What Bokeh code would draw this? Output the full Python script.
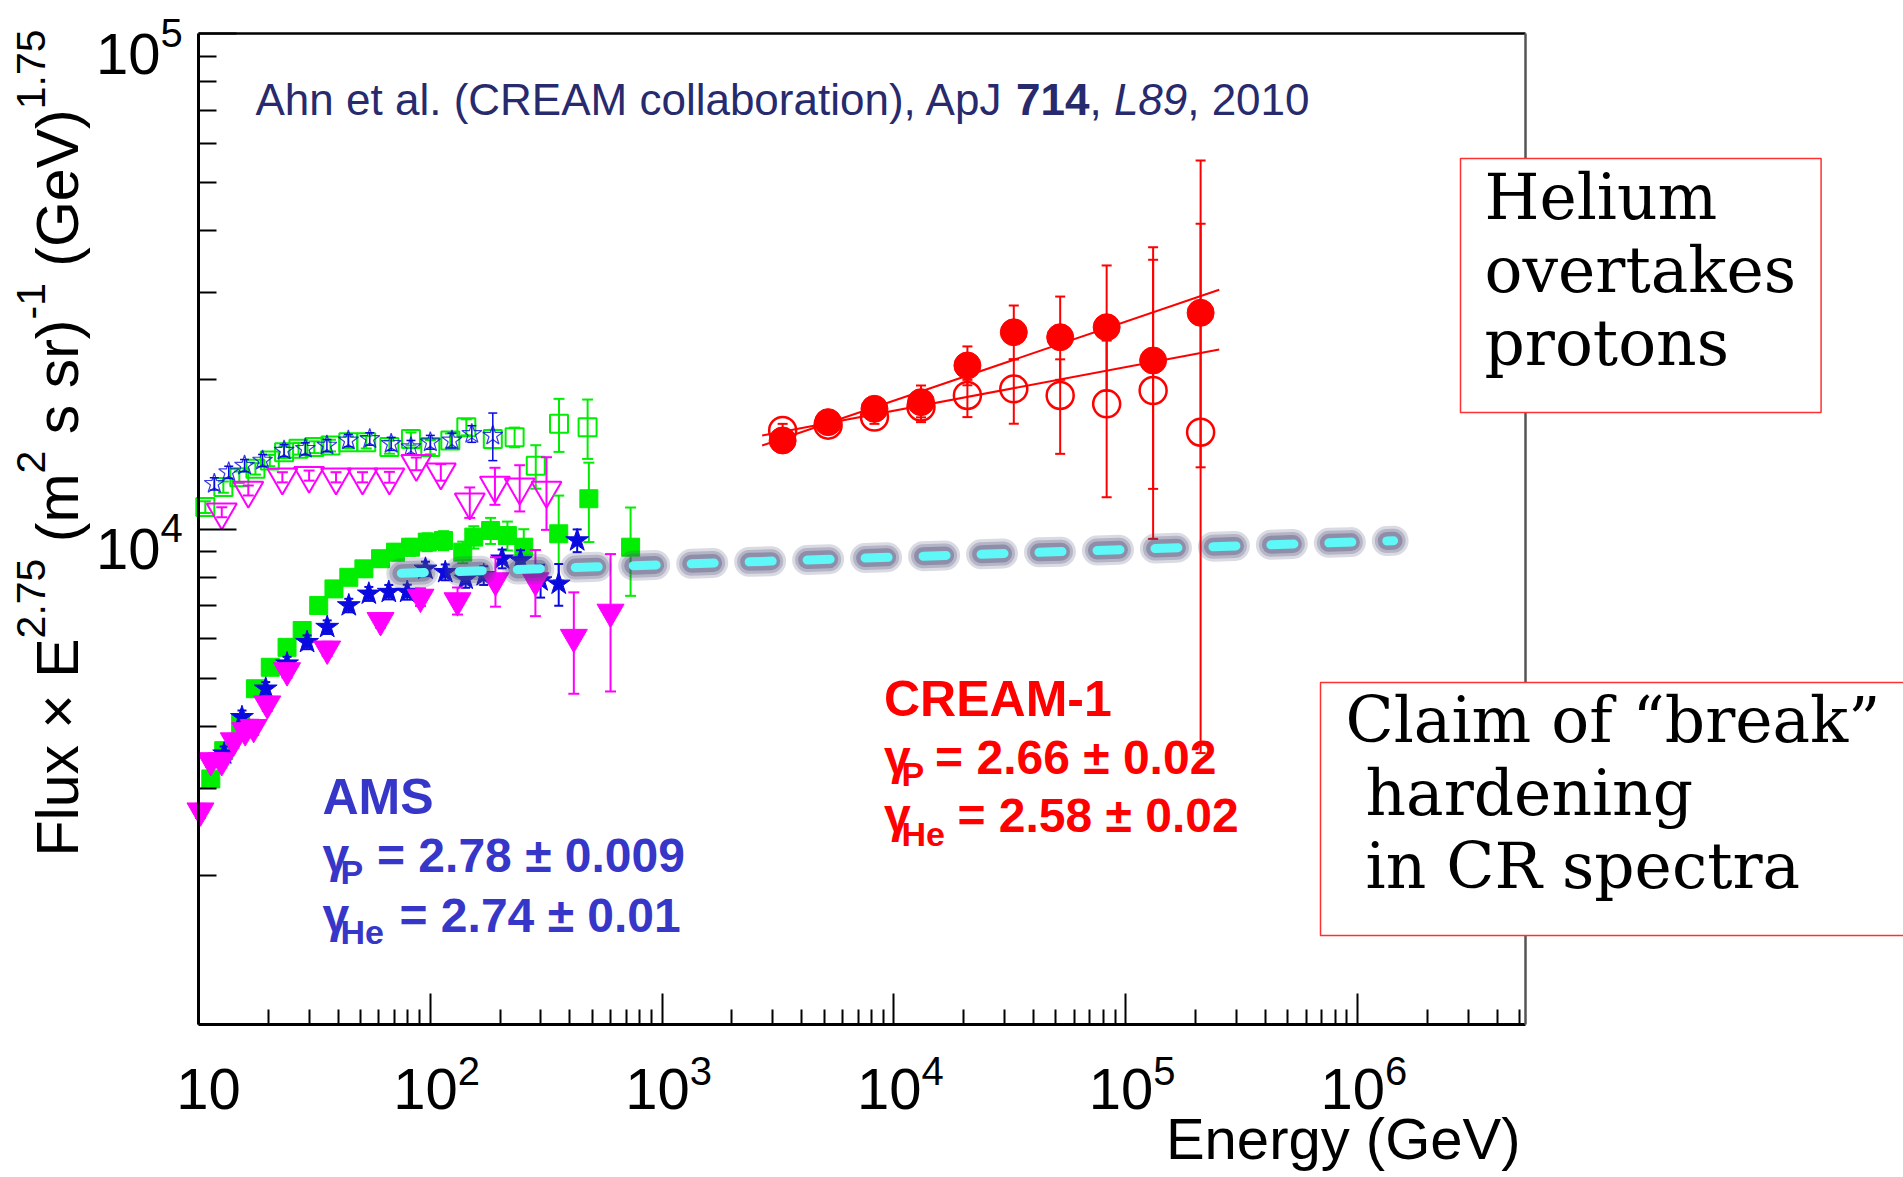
from math import log10, pi

from bokeh.plotting import figure
from bokeh.models import Range1d, FixedTicker, CustomJSTickFormatter, Label, LogAxis
from bokeh.embed import file_html
from bokeh.resources import INLINE

# ---------------------------------------------------------------------------
# Measurements: energy per particle [GeV] and flux x E^2.75
# ---------------------------------------------------------------------------

# blue stars - protons (open) and helium (filled)
star_p_e = [11.7, 13.5, 15.8, 18.9, 23.4, 28.9, 35.8, 44.3, 54.8, 67.8, 82.5, 100, 124, 151, 186]
star_p_f = [12340, 13020, 13430, 13750, 14400, 14520, 14740, 15090, 15200, 14860, 14630, 14970, 15090, 15560, 15440]
star_p_err = [350, 370, 380, 390, 400, 410, 420, 430, 440, 450, 460, 480, 520, 600, 1700]

star_he_e = [12.9, 15.4, 19.5, 24.1, 29.4, 35.9, 44.5, 54.3, 66.2, 79.5, 95.3, 116, 142, 170, 204, 245, 299, 358, 430]
star_he_f = [3520, 4170, 4760, 5350, 5910, 6340, 7010, 7400, 7460, 7460, 8310, 8180, 7930, 8060, 8710, 8640, 7870, 7750, 9480]
star_he_err = [120, 130, 150, 170, 190, 200, 220, 240, 250, 260, 280, 300, 320, 350, 380, 420, 600, 750, 500]

# green squares - protons (open) and helium (filled)
sq_p_e = [10.7, 12.8, 15.0, 17.6, 20.3, 23.4, 27.0, 31.6, 37.1, 44.3, 52.9, 66.6, 82.5, 100, 122, 143, 186, 231, 285, 359, 477]
sq_p_f = [11070, 12150, 12720, 13230, 13750, 14290, 14520, 14630, 14740, 14970, 14970, 14630, 15200, 14630, 15090, 16050, 15200, 15320, 13410, 16310, 16050]
sq_p_err = [300, 320, 340, 350, 360, 380, 390, 400, 400, 420, 430, 440, 460, 480, 500, 600, 650, 700, 1350, 2000, 2200]

sq_he_e = [11.3, 12.85, 15.2, 17.6, 20.4, 24.1, 28.0, 33.0, 38.4, 44.5, 51.7, 61.0, 70.8, 82.2, 97.0, 114, 138, 154, 182, 215, 253, 358, 483, 731]
sq_he_f = [3130, 3570, 4045, 4760, 5260, 5770, 6240, 7010, 7570, 7990, 8310, 8710, 8980, 9190, 9410, 9480, 8980, 9630, 9930, 9700, 9190, 9780, 11510, 9190]
sq_he_err = [110, 120, 140, 160, 180, 200, 220, 240, 260, 280, 300, 320, 340, 360, 390, 420, 450, 500, 600, 650, 800, 1900, 2100, 1860]

# magenta down-triangles - protons (open) and helium (filled)
tri_p_e = [12.6, 16.4, 23.0, 30.0, 39.2, 51.0, 66.6, 87.0, 111, 148, 190, 243, 317]
tri_p_f = [10810, 11960, 12720, 12820, 12720, 12720, 12720, 13540, 13020, 11330, 12240, 12150, 11960]
tri_p_err = [250, 280, 300, 300, 300, 300, 320, 400, 500, 800, 1050, 1300, 2000]

tri_he_e = [10.2, 11.3, 12.6, 14.2, 15.9, 17.3, 19.8, 24.1, 35.9, 61.0, 90.7, 131, 191, 284, 416, 599]
tri_he_f = [2700, 3410, 3410, 3740, 3920, 3980, 4440, 5180, 5730, 6540, 7290, 7170, 7870, 7870, 6050, 6800]
tri_he_err = [90, 100, 110, 120, 130, 140, 150, 170, 190, 220, 300, 450, 900, 1200, 1400, 2100]

# CREAM-1 - protons (open circles) and helium (filled circles)
cream_e = [3310, 5200, 8240, 13080, 20740, 32880, 52120, 82700, 131200, 210300]
cream_p_f = [15810, 16200, 16820, 17620, 18600, 19180, 18600, 17890, 19030, 15680]
cream_p_lo = [15300, 15700, 16300, 16430, 16820, 16310, 14180, 11590, 12050, 13320]
cream_p_hi = [16300, 16700, 17300, 18800, 20000, 22000, 22000, 24000, 34940, 41300]
cream_he_f = [15090, 16430, 17480, 18030, 21380, 24950, 24380, 25540, 21880, 27310]
cream_he_lo = [14600, 15900, 16900, 16800, 19500, 22000, 20000, 19000, 9550, 3530]
cream_he_hi = [15600, 16900, 18100, 19480, 23360, 28250, 29450, 34030, 37040, 55430]

# CREAM-1 power-law fits (end points)
fit_e = [2700, 253000]
fit_p_f = [15440, 23030]
fit_he_f = [14740, 30390]

# single power law extrapolated from low energies
pl_e = [75, 1.43e6]
pl_f = [8140, 9470]

# axis ticks
x_major = [10, 100, 1e3, 1e4, 1e5, 1e6]
y_major = [1e4, 1e5]

# ---------------------------------------------------------------------------
# Geometry: the axes box sits inside a canvas-wide plotting area so that the
# annotations around it (tick labels, titles, comment boxes) are not clipped.
W, H = 1903, 1177
BOX_L, BOX_R, BOX_T, BOX_B = 198, 1525, 33, 1024
X_LO, X_HI = 10.0, 5.3e6
Y_LO, Y_HI = 1e3, 1e5

DEC_X = (BOX_R - BOX_L) / (log10(X_HI) - log10(X_LO))
DEC_Y = (BOX_B - BOX_T) / (log10(Y_HI) - log10(Y_LO))
x_start = 10 ** (log10(X_LO) - BOX_L / DEC_X)
x_end = 10 ** (log10(X_HI) + (W - BOX_R) / DEC_X)
y_start = 10 ** (log10(Y_LO) - (H - BOX_B) / DEC_Y)
y_end = 10 ** (log10(Y_HI) + BOX_T / DEC_Y)

SANS = "Liberation Sans"
SERIF = "DejaVu Serif"
GREEN = "#00ee00"
BLUE = "#0a0ae0"
MAGENTA = "#ff00ff"
RED = "#ff0000"
AMS_BLUE = "#3636c9"
NAVY = "#282a6e"
BASELINE_SHIFT = 0.34   # em, lifts alphabetic-baseline labels onto their baseline

p = figure(width=W, height=H, x_axis_type="log", y_axis_type="log",
           x_range=Range1d(x_start, x_end), y_range=Range1d(y_start, y_end),
           title=None, output_backend="svg", toolbar_location=None,
           min_border_left=0, min_border_right=0, min_border_top=0, min_border_bottom=0)
p.xgrid.visible = False
p.ygrid.visible = False
p.outline_line_color = None
p.background_fill_color = "white"
p.border_fill_color = "white"

x_minor = [m * 10 ** k for k in range(1, 7) for m in range(2, 10) if m * 10 ** k < X_HI]
y_minor = [m * 10 ** k for k in (3, 4) for m in range(2, 10)]
p.xaxis.ticker = FixedTicker(ticks=x_major, minor_ticks=x_minor)
p.yaxis.ticker = FixedTicker(ticks=y_major, minor_ticks=y_minor)
p.xaxis.fixed_location = Y_LO
p.xaxis.bounds = (X_LO, X_HI)
p.yaxis.fixed_location = X_LO
p.yaxis.bounds = (Y_LO, Y_HI)
for ax, major_len, minor_len in ((p.xaxis, 31, 15), (p.yaxis, 38, 18)):
    ax.formatter = CustomJSTickFormatter(code="return ''")
    ax.axis_line_width = 3
    ax.axis_line_color = "black"
    ax.major_tick_in = major_len
    ax.major_tick_out = 0
    ax.minor_tick_in = minor_len
    ax.minor_tick_out = 0
    ax.major_tick_line_width = 2
    ax.minor_tick_line_width = 2
    ax.major_tick_line_color = "black"
    ax.minor_tick_line_color = "black"

# top and right edges of the axes box
for place, loc, bounds, color in (("above", Y_HI, (X_LO, X_HI), "black"),
                                  ("right", X_HI, (Y_LO, Y_HI), "#555555")):
    edge = LogAxis(fixed_location=loc, bounds=bounds, axis_line_color=color, axis_line_width=2.5,
                   ticker=FixedTicker(ticks=[]), formatter=CustomJSTickFormatter(code="return ''"),
                   major_tick_line_color=None, minor_tick_line_color=None)
    p.add_layout(edge, place)


def at(px, py):
    """Data coordinates of a canvas pixel position (for text placement)."""
    return 10 ** (log10(x_start) + px / DEC_X), 10 ** (log10(y_end) - py / DEC_Y)


def xpx(x):
    return (log10(x) - log10(x_start)) * DEC_X


def ypx(y):
    return (log10(y_end) - log10(y)) * DEC_Y


def put(text, px, py, size, color="black", font=SANS, style="normal", align="left",
        baseline="alphabetic", angle=0.0, **extra):
    """Place a label at canvas pixel (px, py)."""
    if baseline == "alphabetic":
        if angle:
            px -= BASELINE_SHIFT * size
        else:
            py -= BASELINE_SHIFT * size
    x, y = at(px, py)
    lab = Label(x=x, y=y, text=text, text_font=font, text_font_size=f"{size}px",
                text_font_style=style, text_color=color, text_align=align,
                text_baseline=baseline, angle=angle, **extra)
    p.add_layout(lab)
    return lab


def errbars(e, lo, hi, color, cap=11, width=2):
    p.segment(x0=e, y0=lo, x1=e, y1=hi, line_color=color, line_width=width)
    p.scatter(e, lo, marker="dash", size=cap, line_color=color, line_width=width)
    p.scatter(e, hi, marker="dash", size=cap, line_color=color, line_width=width)


def sym(f, err):
    return [a - b for a, b in zip(f, err)], [a + b for a, b in zip(f, err)]


# ---- proton data (open markers) ----
lo, hi = sym(sq_p_f, sq_p_err)
errbars(sq_p_e, lo, hi, GREEN)
p.scatter(sq_p_e, sq_p_f, marker="square", size=18, fill_color=None, line_color=GREEN, line_width=2)

lo, hi = sym(star_p_f, star_p_err)
errbars(star_p_e, lo, hi, BLUE, cap=9, width=1.5)
p.scatter(star_p_e, star_p_f, marker="star", size=21, fill_color=None, line_color=BLUE, line_width=1.2, line_alpha=0.8)

lo, hi = sym(tri_p_f, tri_p_err)
errbars(tri_p_e, lo, hi, MAGENTA)
p.scatter(tri_p_e, tri_p_f, marker="inverted_triangle", size=30, fill_color=None, line_color=MAGENTA, line_width=2)

# ---- helium data (filled markers) ----
lo, hi = sym(sq_he_f, sq_he_err)
errbars(sq_he_e, lo, hi, GREEN)
p.scatter(sq_he_e, sq_he_f, marker="square", size=18, fill_color=GREEN, line_color=GREEN)

lo, hi = sym(star_he_f, star_he_err)
errbars(star_he_e, lo, hi, BLUE, cap=9)
p.scatter(star_he_e, star_he_f, marker="star", size=24, fill_color=BLUE, line_color=BLUE)

lo, hi = sym(tri_he_f, tri_he_err)
errbars(tri_he_e, lo, hi, MAGENTA)
p.scatter(tri_he_e, tri_he_f, marker="inverted_triangle", size=27, fill_color=MAGENTA, line_color=MAGENTA)

# ---- CREAM-1 ----
p.line(fit_e, fit_p_f, line_color=RED, line_width=2)
p.line(fit_e, fit_he_f, line_color=RED, line_width=2)
errbars(cream_e, cream_p_lo, cream_p_hi, RED, cap=10)
errbars(cream_e, cream_he_lo, cream_he_hi, RED, cap=10)
p.scatter(cream_e, cream_p_f, marker="circle", size=27, fill_color=None, line_color=RED, line_width=2.5)
p.scatter(cream_e, cream_he_f, marker="circle", size=27, fill_color=RED, line_color=RED)

# ---- extrapolated single power law: glowing cyan dashes ----
for w, a in ((30, 0.2), (24, 0.25), (18, 0.35)):
    p.line(pl_e, pl_f, line_color="#464672", line_alpha=a, line_width=w,
           line_dash="22 36", line_cap="round")
p.line(pl_e, pl_f, line_color="#5ef8f8", line_width=9, line_dash="23 35", line_cap="round")

# ---- tick labels ----
TICK, TICK_SUP = 58, 40
for x in x_major:
    k = round(log10(x))
    cx = xpx(x)
    if k == 1:
        put("10", cx + 10, 1108, TICK, align="center")
    else:
        put("10", cx - 37, 1108, TICK)
        put(str(k), cx + 27.5, 1084, TICK_SUP)
for y in y_major:
    k = round(log10(y))
    cy = ypx(y)
    put("10", 160, cy + 40, TICK, align="right")
    put(str(k), 160, cy + 13, TICK_SUP)

# ---- axis titles ----
put("Energy (GeV)", 1520, 1158, 58, align="right")
BASE, SUP = 59, 41
for text, py, size, px in (("Flux × E", 856, BASE, 78), ("2.75", 637.9, SUP, 44),
                           ("(m", 541.7, BASE, 78), ("2", 472.9, SUP, 44),
                           ("s sr)", 433.7, BASE, 78), ("-1", 319.0, SUP, 44),
                           ("(GeV)", 266.2, BASE, 78), ("1.75", 108.8, SUP, 44)):
    put(text, px, py, size, angle=pi / 2)

# ---- reference line ----
put("Ahn et al. (CREAM collaboration), ApJ", 255, 113.6, 44, color=NAVY)
put("714", 1015.5, 113.6, 44, color=NAVY, style="bold")
put(",", 1088.9, 113.6, 44, color=NAVY)
put("L89", 1113.4, 113.6, 44, color=NAVY, style="italic")
put(", 2010", 1186.7, 113.6, 44, color=NAVY)

# ---- spectral indices ----
put("AMS", 322, 813, 50, color=AMS_BLUE, style="bold")
put("γ", 322, 871.7, 48, color=AMS_BLUE, style="bold")
put("P", 340, 883, 34, color=AMS_BLUE, style="bold")
put("= 2.78 ± 0.009", 376.5, 871.7, 48, color=AMS_BLUE, style="bold")
put("γ", 322, 931.7, 48, color=AMS_BLUE, style="bold")
put("He", 340, 943, 34, color=AMS_BLUE, style="bold")
put("= 2.74 ± 0.01", 399, 931.7, 48, color=AMS_BLUE, style="bold")

put("CREAM-1", 883.5, 715, 50, color=RED, style="bold")
put("γ", 883.5, 773.3, 48, color=RED, style="bold")
put("P", 901, 785, 34, color=RED, style="bold")
put("= 2.66 ± 0.02", 934.6, 773.3, 48, color=RED, style="bold")
put("γ", 883.5, 831.7, 48, color=RED, style="bold")
put("He", 901, 845, 34, color=RED, style="bold")
put("= 2.58 ± 0.02", 956.9, 831.7, 48, color=RED, style="bold")

# ---- boxed comments (anchor = box corner, padding = left, right, top, bottom) ----
put("Helium\novertakes\nprotons", 1460, 158, 63, font=SERIF, baseline="top",
    text_line_height=1.0, border_line_color="#ff3030", border_line_width=1.5,
    background_fill_color="white", padding=(24, 25, 2, 33))
put("Claim of “break”\n\u00a0hardening\n\u00a0in CR spectra", 1320, 682, 63, font=SERIF,
    baseline="top", text_line_height=1.0, border_line_color="#ff3030",
    border_line_width=1.5, background_fill_color="white", padding=(25, 80, 1, 33))

open("out.html", "w").write(file_html(p, INLINE))
